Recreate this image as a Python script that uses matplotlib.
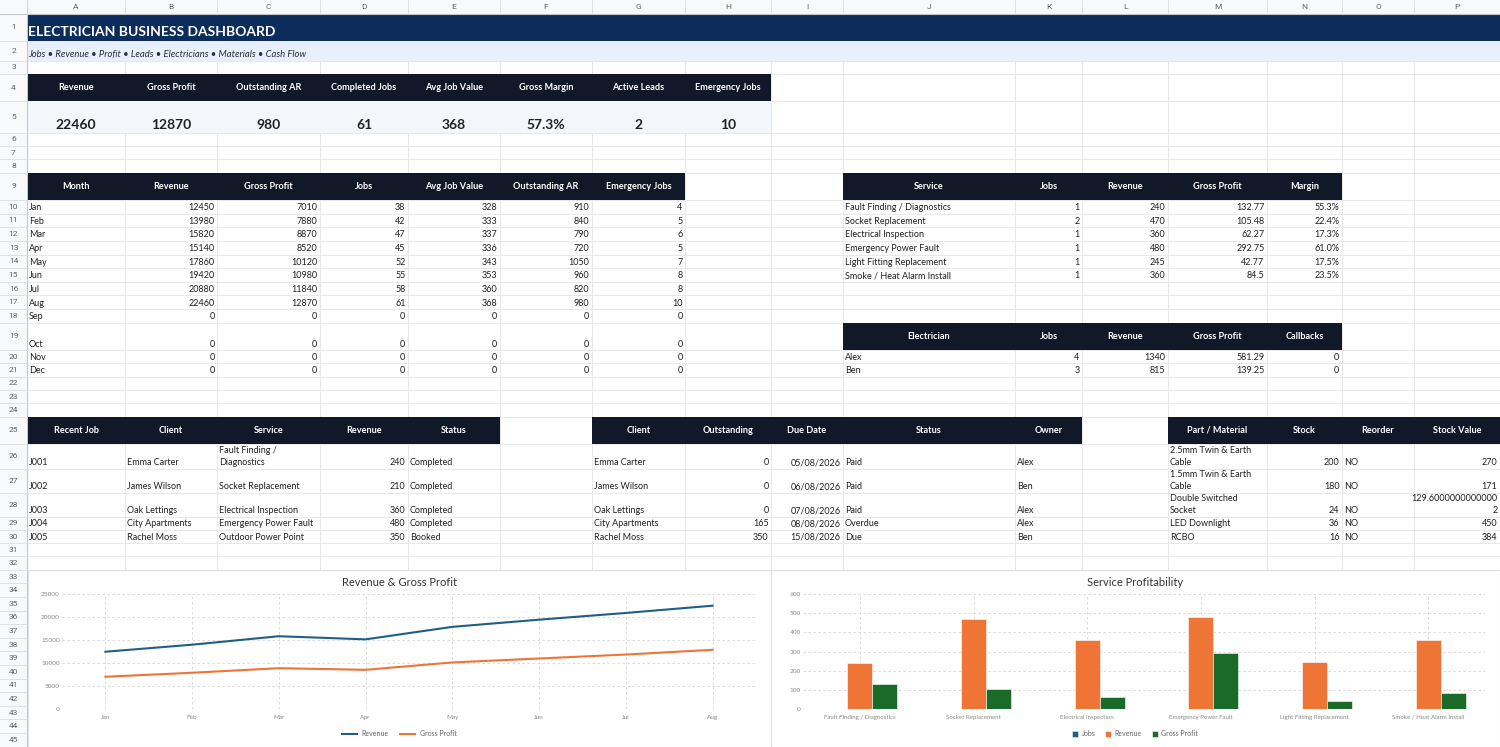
import matplotlib
matplotlib.use('Agg')
import matplotlib.pyplot as plt
from matplotlib.patches import Rectangle
import numpy as np

plt.rcParams['font.family'] = ['Lato', 'DejaVu Sans']

# ---- data ----
kpi_labels = ['Revenue', 'Gross Profit', 'Outstanding AR', 'Completed Jobs',
              'Avg Job Value', 'Gross Margin', 'Active Leads', 'Emergency Jobs']
kpi_values = ['22460', '12870', '980', '61', '368', '57.3%', '2', '10']

months = ['Jan', 'Feb', 'Mar', 'Apr', 'May', 'Jun', 'Jul', 'Aug', 'Sep', 'Oct', 'Nov', 'Dec']
month_revenue = [12450, 13980, 15820, 15140, 17860, 19420, 20880, 22460, 0, 0, 0, 0]
month_profit = [7010, 7880, 8870, 8520, 10120, 10980, 11840, 12870, 0, 0, 0, 0]
month_jobs = [38, 42, 47, 45, 52, 55, 58, 61, 0, 0, 0, 0]
month_avg = [328, 333, 337, 336, 343, 353, 360, 368, 0, 0, 0, 0]
month_ar = [910, 840, 790, 720, 1050, 960, 820, 980, 0, 0, 0, 0]
month_emerg = [4, 5, 6, 5, 7, 8, 8, 10, 0, 0, 0, 0]
month_head = ['Month', 'Revenue', 'Gross Profit', 'Jobs', 'Avg Job Value', 'Outstanding AR', 'Emergency Jobs']

services = ['Fault Finding / Diagnostics', 'Socket Replacement', 'Electrical Inspection',
            'Emergency Power Fault', 'Light Fitting Replacement', 'Smoke / Heat Alarm Install']
svc_jobs = [1, 2, 1, 1, 1, 1]
svc_revenue = [240, 470, 360, 480, 245, 360]
svc_profit = [132.77, 105.48, 62.27, 292.75, 42.77, 84.5]
svc_margin = ['55.3%', '22.4%', '17.3%', '61.0%', '17.5%', '23.5%']
svc_head = ['Service', 'Jobs', 'Revenue', 'Gross Profit', 'Margin']

electricians = ['Alex', 'Ben']
el_jobs = [4, 3]
el_revenue = [1340, 815]
el_profit = [581.29, 139.25]
el_callbacks = [0, 0]
el_head = ['Electrician', 'Jobs', 'Revenue', 'Gross Profit', 'Callbacks']

job_ids = ['J001', 'J002', 'J003', 'J004', 'J005']
job_clients = ['Emma Carter', 'James Wilson', 'Oak Lettings', 'City Apartments', 'Rachel Moss']
job_services = ['Fault Finding /\nDiagnostics', 'Socket Replacement', 'Electrical Inspection',
                'Emergency Power Fault', 'Outdoor Power Point']
job_revenue = [240, 210, 360, 480, 350]
job_status = ['Completed', 'Completed', 'Completed', 'Completed', 'Booked']
job_head = ['Recent Job', 'Client', 'Service', 'Revenue', 'Status']

ar_clients = ['Emma Carter', 'James Wilson', 'Oak Lettings', 'City Apartments', 'Rachel Moss']
ar_outstanding = [0, 0, 0, 165, 350]
ar_due = ['05/08/2026', '06/08/2026', '07/08/2026', '08/08/2026', '15/08/2026']
ar_status = ['Paid', 'Paid', 'Paid', 'Overdue', 'Due']
ar_owner = ['Alex', 'Ben', 'Alex', 'Alex', 'Ben']
ar_head = ['Client', 'Outstanding', 'Due Date', 'Status', 'Owner']

parts = ['2.5mm Twin & Earth\nCable', '1.5mm Twin & Earth\nCable', 'Double Switched\nSocket',
         'LED Downlight', 'RCBO']
part_stock = [200, 180, 24, 36, 16]
part_reorder = ['NO', 'NO', 'NO', 'NO', 'NO']
part_value = ['270', '171', '129.6000000000000\n2', '450', '384']
part_head = ['Part / Material', 'Stock', 'Reorder', 'Stock Value']

# ---- sheet geometry (pixels) ----
W, H = 1500, 747
col_edges = [27, 125, 217, 320, 408, 500, 592, 685, 771, 843, 1015, 1082, 1168, 1267, 1342, 1414, 1500]
heights = ([13.5, 27.2, 20, 13.3, 27, 31.7, 13.3, 13.3, 13.4, 27.3] + [13.64] * 9 + [27.3]
           + [13.33] * 5 + [27, 25, 24, 24] + [13.25] * 4 + [13.6] * 13)
row_y = np.concatenate([[0], np.cumsum(heights)])

NAVY = '#0C2D5C'
HEAD = '#111827'
TXT = '#202124'
BODY = 6.5
HBODY = 6.6

fig = plt.figure(figsize=(15, 7.47), dpi=100)
ax = fig.add_axes([0, 0, 1, 1])
ax.set_xlim(0, W)
ax.set_ylim(H, 0)
ax.axis('off')

# grid lines
for x in col_edges:
    ax.plot([x, x], [row_y[1], H], color='#E8E8E8', lw=0.7, zorder=1)
for y in row_y[2:]:
    ax.plot([27, W], [y, y], color='#E8E8E8', lw=0.7, zorder=1)


def fill(c0, c1, row, color):
    x0, x1 = col_edges[c0], col_edges[c1 + 1]
    ax.add_patch(Rectangle((x0, row_y[row]), x1 - x0, row_y[row + 1] - row_y[row],
                           facecolor=color, edgecolor='none', zorder=2))


def put(col, row, text, ha='left', va='bottom', bold=False, color=TXT, size=BODY,
        style='normal', off=3.5, x=None):
    x0, x1 = col_edges[col], col_edges[col + 1]
    y0, y1 = row_y[row], row_y[row + 1]
    if x is None:
        x = x0 + 2 if ha == 'left' else (x1 - 2.5 if ha == 'right' else (x0 + x1) / 2)
    weight = 'bold' if bold else 'normal'
    if va == 'center':
        ax.text(x, (y0 + y1) / 2, text, ha=ha, va='center', fontsize=size, color=color,
                fontweight=weight, fontstyle=style, zorder=5)
        return
    for i, line in enumerate(reversed(text.split('\n'))):
        ax.text(x, y1 - off - i * 12, line, ha=ha, va='baseline', fontsize=size, color=color,
                fontweight=weight, fontstyle=style, zorder=5)


def header(c0, row, labels):
    fill(c0, c0 + len(labels) - 1, row, HEAD)
    for i, lab in enumerate(labels):
        put(c0 + i, row, lab, ha='center', va='center', bold=True, color='white', size=HBODY)


def fmt(v):
    return f'{v:g}' if isinstance(v, float) else str(v)


# title bands
fill(0, 15, 1, NAVY)
fill(0, 15, 2, '#E8F0FE')
put(0, 1, 'ELECTRICIAN BUSINESS DASHBOARD', bold=True, color='white', size=10, off=4.5, x=28)
put(0, 2, 'Jobs • Revenue • Profit • Leads • Electricians • Materials • Cash Flow',
    style='italic', color='#2B2F36', size=6.8, off=3.3, x=28)

# KPI strip
header(0, 4, kpi_labels)
fill(0, 7, 5, '#F3F7FC')
for i, v in enumerate(kpi_values):
    put(i, 5, v, ha='center', bold=True, size=10, off=3.3)

# monthly table
header(0, 9, month_head)
for i, m in enumerate(months):
    r = 10 + i
    put(0, r, m)
    for c, arr in enumerate([month_revenue, month_profit, month_jobs, month_avg, month_ar, month_emerg]):
        put(c + 1, r, fmt(arr[i]), ha='right')

# service table
header(9, 9, svc_head)
for i, s in enumerate(services):
    r = 10 + i
    put(9, r, s)
    put(10, r, fmt(svc_jobs[i]), ha='right')
    put(11, r, fmt(svc_revenue[i]), ha='right')
    put(12, r, fmt(svc_profit[i]), ha='right')
    put(13, r, svc_margin[i], ha='right')

# electrician table
header(9, 19, el_head)
for i, e in enumerate(electricians):
    r = 20 + i
    put(9, r, e)
    put(10, r, fmt(el_jobs[i]), ha='right')
    put(11, r, fmt(el_revenue[i]), ha='right')
    put(12, r, fmt(el_profit[i]), ha='right')
    put(13, r, fmt(el_callbacks[i]), ha='right')

# recent jobs
header(0, 25, job_head)
for i in range(len(job_ids)):
    r = 26 + i
    put(0, r, job_ids[i])
    put(1, r, job_clients[i])
    put(2, r, job_services[i])
    put(3, r, fmt(job_revenue[i]), ha='right')
    put(4, r, job_status[i])

# receivables
header(6, 25, ar_head)
for i in range(len(ar_clients)):
    r = 26 + i
    put(6, r, ar_clients[i])
    put(7, r, fmt(ar_outstanding[i]), ha='right')
    put(8, r, ar_due[i], ha='right')
    put(9, r, ar_status[i])
    put(10, r, ar_owner[i])

# materials
header(12, 25, part_head)
for i in range(len(parts)):
    r = 26 + i
    put(12, r, parts[i])
    put(13, r, fmt(part_stock[i]), ha='right')
    put(14, r, part_reorder[i])
    put(15, r, part_value[i], ha='right')

# column letters / row numbers
ax.add_patch(Rectangle((0, 0), W, row_y[1], facecolor='#F8F9FA', edgecolor='none', zorder=6))
ax.add_patch(Rectangle((0, 0), 27, H, facecolor='#F8F9FA', edgecolor='none', zorder=6))
ax.plot([0, W], [row_y[1], row_y[1]], color='#C4C7C5', lw=0.8, zorder=7)
ax.plot([27, 27], [0, H], color='#C4C7C5', lw=0.8, zorder=7)
for i, x in enumerate(col_edges):
    ax.plot([x, x], [0, row_y[1]], color='#DADCE0', lw=0.6, zorder=7)
    if i < 16:
        ax.text((x + col_edges[i + 1]) / 2, row_y[1] / 2 + 0.5, 'ABCDEFGHIJKLMNOP'[i], ha='center',
                va='center', fontsize=6, color='#5F6368', family='Roboto', zorder=8)
for r in range(1, 46):
    ax.plot([0, 27], [row_y[r + 1], row_y[r + 1]], color='#DADCE0', lw=0.6, zorder=7)
    ax.text(13.5, (row_y[r] + row_y[r + 1]) / 2, str(r), ha='center', va='center',
            fontsize=6, color='#5F6368', family='Roboto', zorder=8)

# chart backgrounds
top = row_y[33]
ax.add_patch(Rectangle((28, top), 743, H - top, facecolor='white', edgecolor='#E0E0E0', lw=0.8, zorder=9))
ax.add_patch(Rectangle((771, top), 729, H - top, facecolor='white', edgecolor='#E0E0E0', lw=0.8, zorder=9))
ax.text(399, 582, 'Revenue & Gross Profit', ha='center', va='center', fontsize=8, color='#333333', zorder=10)
ax.text(1135, 582, 'Service Profitability', ha='center', va='center', fontsize=8, color='#333333', zorder=10)


def fig_rect(x0, y0, x1, y1):
    return [x0 / W, 1 - y1 / H, (x1 - x0) / W, (y1 - y0) / H]


def style_chart(a):
    for s in a.spines.values():
        s.set_visible(False)
    a.grid(True, ls=(0, (3, 3)), color='#D6D6D6', lw=0.6)
    a.set_axisbelow(True)
    a.tick_params(length=0, labelsize=4.6, colors='#8A8A8A')
    a.tick_params(axis='y', pad=1.5)
    a.tick_params(axis='x', pad=4)


BLUE = '#1F5F86'
ORANGE = '#EE7535'
GREEN = '#1A6B28'

ax1 = fig.add_axes(fig_rect(62, 594, 756, 709))
xs = np.arange(8)
ax1.plot(xs, month_revenue[:8], color=BLUE, lw=1.5, label='Revenue')
ax1.plot(xs, month_profit[:8], color=ORANGE, lw=1.5, label='Gross Profit')
ax1.set_xlim(-0.5, 7.5)
ax1.set_ylim(0, 25000)
ax1.set_xticks(xs, months[:8])
ax1.set_yticks(range(0, 25001, 5000))
style_chart(ax1)
ax1.legend(loc='center', bbox_to_anchor=(399 / W, 1 - 734 / H), bbox_transform=fig.transFigure,
           ncol=2, frameon=False, fontsize=5, handlelength=2.2, handletextpad=0.6,
           columnspacing=1.7, labelcolor='#666666')

ax2 = fig.add_axes(fig_rect(803, 594, 1485, 709))
xb = np.arange(len(services))
w = 0.22
ax2.bar(xb - w, svc_jobs, w, color=BLUE, edgecolor='#E8EEF3', lw=0.4, label='Jobs')
ax2.bar(xb, svc_revenue, w, color=ORANGE, edgecolor='white', lw=0.4, label='Revenue')
ax2.bar(xb + w, svc_profit, w, color=GREEN, edgecolor='white', lw=0.4, label='Gross Profit')
ax2.set_xlim(-0.5, len(services) - 0.5)
ax2.set_ylim(0, 600)
ax2.set_xticks(xb, services)
ax2.set_yticks(range(0, 601, 100))
style_chart(ax2)
ax2.tick_params(axis='x', labelsize=4.4)
ax2.legend(loc='center', bbox_to_anchor=(1135 / W, 1 - 734 / H), bbox_transform=fig.transFigure,
           ncol=3, frameon=False, fontsize=5, handlelength=0.9, handleheight=0.9,
           handletextpad=0.5, columnspacing=1.4, labelcolor='#666666')

fig.savefig('out.png', dpi=100)
